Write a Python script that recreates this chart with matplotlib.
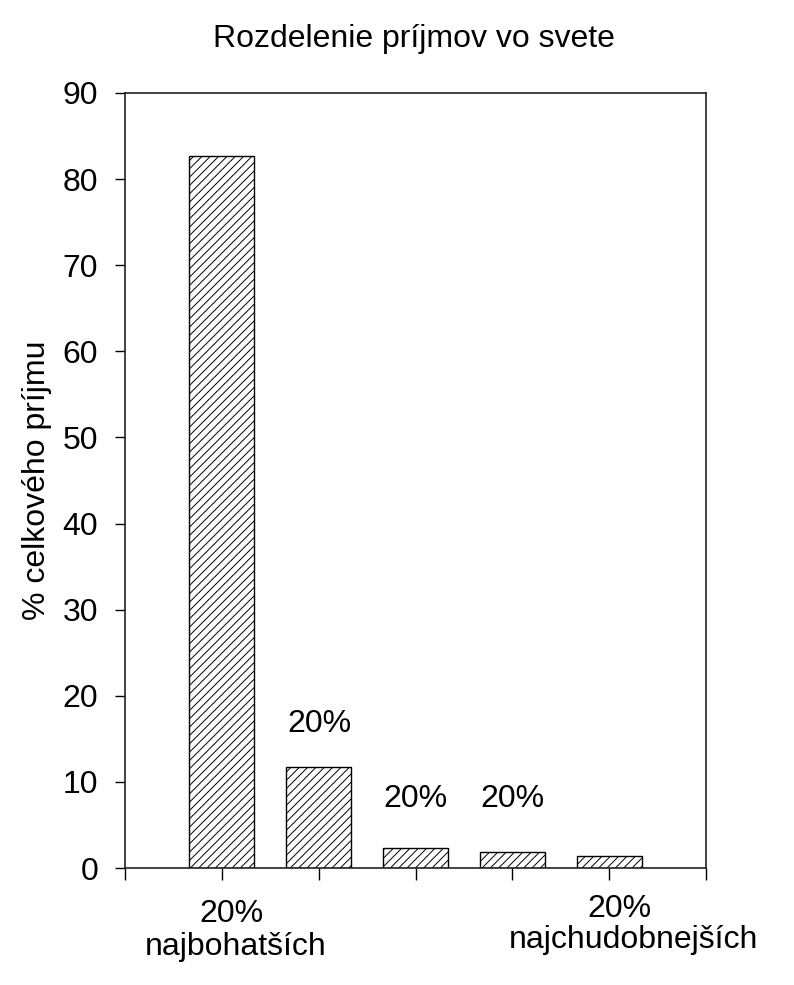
import matplotlib
matplotlib.use("Agg")
import matplotlib.pyplot as plt
import numpy as np

plt.rcParams['font.family'] = ['Liberation Sans', 'DejaVu Sans']
plt.rcParams['hatch.linewidth'] = 0.7

# data
positions = [1, 2, 3, 4, 5]
income_share = [82.7, 11.7, 2.3, 1.9, 1.4]
yticks = [0, 10, 20, 30, 40, 50, 60, 70, 80, 90]
title = "Rozdelenie príjmov vo svete"
ylabel = "% celkového príjmu"
bar_labels = ["20%", "20%", "20%"]  # nad stlpcami 2, 3, 4

fs = 23

fig = plt.figure(figsize=(7.94, 9.85), dpi=100)
ax = fig.add_axes([125/794, 1-868/985, 581/794, 775/985])

ax.bar(positions, income_share, width=0.67, color="white", edgecolor="black",
       linewidth=1.0, hatch="////", zorder=2)

ax.set_xlim(0, 6)
ax.set_ylim(0, 90)
ax.set_yticks(yticks)
ax.set_xticks([0, 1, 2, 3, 4, 5, 6])
ax.set_xticklabels([])
ax.tick_params(axis="y", direction="out", length=7.2, width=1.0, pad=12, labelsize=fs)
ax.tick_params(axis="x", direction="out", length=8.6, width=1.0)
for s in ax.spines.values():
    s.set_linewidth(1.2)
    s.set_color("#222222")

# popisky nad stlpcami
ax.text(2.01, 15.8, bar_labels[0], ha="center", va="baseline", fontsize=fs)
ax.text(3.0, 7.08, bar_labels[1], ha="center", va="baseline", fontsize=fs)
ax.text(4.0, 7.08, bar_labels[2], ha="center", va="baseline", fontsize=fs)

# popisky osi x
ax.text(1.095, -6.27, "20%", ha="center", va="baseline", fontsize=fs, clip_on=False)
ax.text(1.146, -10.1, "najbohatších", ha="center", va="baseline", fontsize=fs, clip_on=False)
ax.text(5.11, -5.69, "20%", ha="center", va="baseline", fontsize=fs, clip_on=False)
ax.text(5.25, -9.29, "najchudobnejších", ha="center", va="baseline", fontsize=fs, clip_on=False)

fig.text(414/794, 1-47/985, title, ha="center", va="baseline", fontsize=fs)
fig.text(37.5/794, 1-480.5/985, ylabel, rotation=90, ha="center", va="center", fontsize=fs)

fig.savefig("out.png", dpi=100)
